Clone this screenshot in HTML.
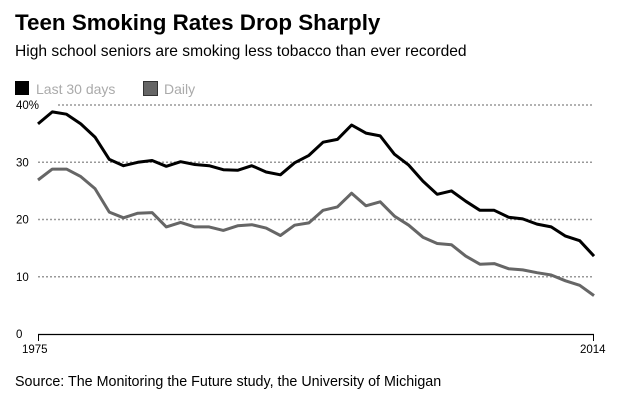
<!DOCTYPE html>
<html><head><meta charset="utf-8">
<style>
body{margin:0;background:#fff;width:630px;height:400px;overflow:hidden;font-family:"Liberation Sans",Arial,sans-serif;}
</style></head>
<body>
<svg width="630" height="400" xmlns="http://www.w3.org/2000/svg">
<text x="15" y="30" font-size="22.4" font-weight="bold" fill="#000">Teen Smoking Rates Drop Sharply</text>
<text x="15" y="56" font-size="15.6" fill="#000">High school seniors are smoking less tobacco than ever recorded</text>
<rect x="15" y="81" width="14" height="14" fill="#000"/>
<text x="36" y="94" font-size="14" fill="#aaa">Last 30 days</text>
<rect x="143.5" y="81.5" width="14" height="14" fill="#666" stroke="#333" stroke-width="1"/>
<text x="164" y="94" font-size="14" fill="#aaa">Daily</text>
<g id="grid"></g>
<g id="lines"></g>
<line x1="38" y1="334.5" x2="594" y2="334.5" stroke="#000" stroke-width="1.2"/>
<line x1="38.5" y1="334" x2="38.5" y2="341" stroke="#000"/>
<line x1="593.5" y1="334" x2="593.5" y2="341" stroke="#000"/>
<text x="22" y="353" font-size="11.5">1975</text>
<text x="580" y="353" font-size="11.5">2014</text>
<text x="15" y="386" font-size="14.3">Source: The Monitoring the Future study, the University of Michigan</text>
</svg>
<script>
const years=[1975,1976,1977,1978,1979,1980,1981,1982,1983,1984,1985,1986,1987,1988,1989,1990,1991,1992,1993,1994,1995,1996,1997,1998,1999,2000,2001,2002,2003,2004,2005,2006,2007,2008,2009,2010,2011,2012,2013,2014];
const last30=[36.7,38.8,38.4,36.7,34.4,30.5,29.4,30.0,30.3,29.3,30.1,29.6,29.4,28.7,28.6,29.4,28.3,27.8,29.9,31.2,33.5,34.0,36.5,35.1,34.6,31.4,29.5,26.7,24.4,25.0,23.2,21.6,21.6,20.4,20.1,19.2,18.7,17.1,16.3,13.6];
const daily=[26.9,28.8,28.8,27.5,25.4,21.3,20.3,21.1,21.2,18.7,19.5,18.7,18.7,18.1,18.9,19.1,18.5,17.2,19.0,19.4,21.6,22.2,24.6,22.4,23.1,20.6,19.0,16.9,15.8,15.6,13.6,12.2,12.3,11.4,11.2,10.7,10.3,9.3,8.5,6.7];
const yTicks=[0,10,20,30,40];
const yTickLabels=["0","10","20","30","40%"];
const NS="http://www.w3.org/2000/svg";
const x=y=>38+(y-1975)*(556/39);
const yS=v=>334-v*5.725;
const grid=document.getElementById('grid');
yTicks.forEach((t,i)=>{
  if(t>0){
    const l=document.createElementNS(NS,'line');
    l.setAttribute('x1',i===4?58:38);l.setAttribute('x2',594);
    l.setAttribute('y1',yS(t));l.setAttribute('y2',yS(t));
    l.setAttribute('stroke','#999');l.setAttribute('stroke-width','1.5');l.setAttribute('stroke-dasharray','2,2');
    
    
    grid.appendChild(l);
  }
  const tx=document.createElementNS(NS,'text');
  tx.setAttribute('x',16);tx.setAttribute('y',yS(t)+4);tx.setAttribute('font-size','11.5');
  tx.textContent=yTickLabels[i];
  
  
  grid.appendChild(tx);
});
const lines=document.getElementById('lines');
function draw(vals,color,name){
  const p=document.createElementNS(NS,'polyline');
  p.setAttribute('points',vals.map((v,i)=>x(years[i]).toFixed(1)+','+yS(v).toFixed(1)).join(' '));
  p.setAttribute('fill','none');p.setAttribute('stroke',color);p.setAttribute('stroke-width','3');p.setAttribute('stroke-linejoin','round');
  
  
  lines.appendChild(p);
}
draw(daily,'#666','daily-line');
draw(last30,'#000','last-30-days-line');
</script>
</body></html>
